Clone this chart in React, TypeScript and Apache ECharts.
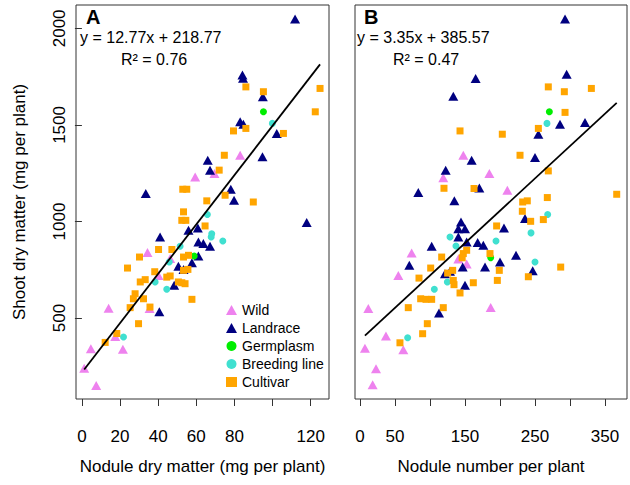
import React, { useEffect, useRef } from 'react';
import * as echarts from 'echarts';

// ---------- data (x, y) ----------
// Panel A: nodule dry matter (mg per plant) vs shoot dry matter
const wildA = [[1.2,240],[7.5,151],[4.7,341],[21.5,338],[17.5,405],[14,551],[35.5,549],[40.2,721],[46.3,808],[34.4,839],[59.4,1231],[69.5,1249],[83,1343]];
const landraceA = [[111.8,2048],[84.2,1758],[84.5,1742],[94.9,1646],[83,1516],[84.7,1504],[102.2,1456],[94.7,1335],[66,1317],[67.2,1266],[33.5,1145],[78.1,1167],[79.8,1110],[117.9,995],[55.9,955],[60.8,967],[41,920],[61.1,894],[63.7,886],[67.2,872],[61.1,821],[57.7,787],[50.6,768],[53.3,752],[48.4,670],[40.6,533]];
const germplasmA = [[95.2,1568],[58.9,821]];
const breedingA = [[99.9,1508],[65.8,1036],[68.1,937],[67.8,920],[73.9,899],[51.5,872],[45.8,790],[38.4,687],[44.5,649],[21.8,402]];
const cultivarA = [[86,1697],[95.2,1672],[124.9,1689],[122.4,1568],[105.7,1456],[79.5,1469],[86,1482],[74.7,1343],[72,1266],[52.9,1167],[55,1167],[75.1,1136],[65.5,1107],[89.9,1101],[53.3,1050],[52.4,1006],[54.5,1006],[64.6,977],[40.2,855],[47.2,855],[30.2,816],[53.3,816],[55.9,825],[23.9,759],[53.3,747],[55.6,752],[38.2,740],[33.2,699],[30.6,687],[44.5,712],[46.3,718],[50.6,687],[52.4,683],[54.1,678],[27.9,626],[32.3,600],[27,600],[57.7,597],[25.3,554],[35.7,557],[29.7,471],[18.3,420],[12.2,374]];

// Panel B: nodule number per plant vs shoot dry matter
const wildB = [[18.1,155],[22.9,238],[7.1,344],[61.9,336],[37.1,407],[11.9,549],[186.7,555],[54.8,721],[152.4,780],[140.5,806],[73.8,837],[210.5,1162],[119,1226],[184.8,1249],[147.6,1343]];
const landraceB = [[292.9,2048],[295.2,1763],[165.2,1741],[133.3,1649],[285.7,1503],[321.4,1513],[254.8,1452],[250,1331],[159.5,1317],[122.4,1266],[170.5,1174],[83.3,1150],[134.8,1107],[235.7,1015],[144.3,998],[150,963],[140.5,963],[205.7,967],[140.5,920],[152.4,894],[168.1,891],[176.2,877],[102.4,872],[222.9,825],[200,790],[70.5,773],[146.7,764],[178.6,764],[246.7,745],[121.4,730],[128.6,742],[150,670],[112.9,526]];
const germplasmB = [[270.5,1568],[186.7,813]];
const breedingB = [[267.1,1508],[268.1,1036],[244.3,941],[128.6,920],[194.3,899],[137.1,873],[250,790],[124.8,687],[106.2,649],[68.1,398]];
const cultivarB = [[269,1697],[291.9,1672],[330.5,1689],[292.9,1565],[254.8,1482],[142.9,1469],[203.3,1452],[228.6,1343],[269,1262],[120,1172],[162.9,1171],[366.7,1141],[232.4,1101],[239,1107],[267.6,1124],[231.9,1053],[243.8,1001],[261.9,1010],[195.2,977],[152.4,851],[147.6,834],[116.7,816],[185.7,834],[146,812],[101,759],[286.7,764],[199,747],[125.2,733],[132.4,747],[84.3,707],[240.5,714],[196.2,695],[161.9,683],[133.3,695],[134.3,673],[142.9,630],[86.7,600],[94.3,597],[102.4,597],[69,554],[119,554],[96.2,471],[89.5,419],[57.1,372]];

// regression fits (from the chart's equations) and the x-span of the fitted lines
const fitA = { slope: 12.77, intercept: 218.77, r2: 0.76 };
const fitB = { slope: 3.35, intercept: 385.57, r2: 0.47 };
const fitXRangeA = [1.2, 124.9];
const fitXRangeB = [7.1, 366.7];

// axes ticks
const ticksXA = [0, 20, 40, 60, 80, 100, 120];
const labelsXA = [0, 20, 40, 60, 80, 120];
const ticksXB = [0, 50, 100, 150, 200, 250, 300, 350];
const labelsXB = [0, 50, 150, 250, 350];
const ticksY = [500, 1000, 1500, 2000];

const groups = ['Wild', 'Landrace', 'Germplasm', 'Breeding line', 'Cultivar'];
const colors = ['#EE82EE', '#000080', '#00EE00', '#40E0D0', '#FFA500'];
const symbols = ['triangle', 'triangle', 'circle', 'circle', 'rect'];
const sizes: any[] = [[10, 9], [10, 9], 7, 7, 7];

const FONT = "'Liberation Sans', Arial, sans-serif";

export default function App() {
  const ref = useRef<HTMLDivElement>(null);
  useEffect(() => {
    if (!ref.current) return;
    const chart = echarts.init(ref.current, null, { renderer: 'svg' });
    const dataA = [wildA, landraceA, germplasmA, breedingA, cultivarA];
    const dataB = [wildB, landraceB, germplasmB, breedingB, cultivarB];
    const series: any[] = [];
    [dataA, dataB].forEach((set, gi) => {
      set.forEach((d, i) => {
        series.push({
          type: 'scatter', name: groups[i], xAxisIndex: gi, yAxisIndex: gi,
          data: d, symbol: symbols[i], symbolSize: sizes[i],
          itemStyle: { color: colors[i], opacity: 1 },
          emphasis: { disabled: true },
        });
      });
    });
    const fits = [fitA, fitB];
    const ranges = [fitXRangeA, fitXRangeB];
    fits.forEach((f, gi) => {
      series.push({
        type: 'line', xAxisIndex: gi, yAxisIndex: gi, symbol: 'none',
        data: ranges[gi].map((x) => [x, f.slope * x + f.intercept]),
        lineStyle: { color: '#000', width: 1.8 }, silent: true, z: 5,
      });
    });
    const xAxisBase = (min: number, max: number, gi: number, ticks: number[], labels: number[], name: string) => ({
      type: 'value', gridIndex: gi, min, max,
      axisLine: { show: false },
      splitLine: { show: false },
      axisTick: { show: true, length: 7, customValues: ticks, lineStyle: { color: '#333' } },
      axisLabel: { customValues: labels, margin: 29, fontSize: 17, color: '#000', fontFamily: FONT },
      name, nameLocation: 'middle', nameGap: 59,
      nameTextStyle: { fontSize: 17, color: '#000', fontFamily: FONT },
    });
    const option: any = {
      animation: false,
      grid: [
        { left: 76, top: 5, width: 253, height: 394, show: true, borderColor: '#333', borderWidth: 1, backgroundColor: '#fff' },
        { left: 355, top: 5, width: 272, height: 394, show: true, borderColor: '#333', borderWidth: 1, backgroundColor: '#fff' },
      ],
      xAxis: [
        xAxisBase(-3.1, 129.6, 0, ticksXA, labelsXA, 'Nodule dry matter (mg per plant)'),
        xAxisBase(-7.1, 381.4, 1, ticksXB, labelsXB, 'Nodule number per plant'),
      ],
      yAxis: [
        {
          type: 'value', gridIndex: 0, min: 81, max: 2121,
          axisLine: { show: false }, splitLine: { show: false },
          axisTick: { show: true, length: 7, customValues: ticksY, lineStyle: { color: '#333' } },
          axisLabel: { customValues: ticksY, formatter: (v: number) => String(v), rotate: 90, margin: 8, fontSize: 17, color: '#000', fontFamily: FONT },
          name: 'Shoot dry matter (mg per plant)', nameLocation: 'middle', nameGap: 48,
          nameTextStyle: { fontSize: 17, color: '#000', fontFamily: FONT },
        },
        {
          type: 'value', gridIndex: 1, min: 81, max: 2121,
          axisLine: { show: false }, splitLine: { show: false },
          axisTick: { show: false }, axisLabel: { show: false },
        },
      ],
      legend: {
        orient: 'vertical', left: 221, top: 298,
        itemWidth: 11, itemHeight: 10, itemGap: 4,
        data: groups.map((g, i) => ({ name: g, icon: symbols[i] })),
        textStyle: { fontSize: 14, color: '#000', fontFamily: FONT },
        selectedMode: false,
      },
      graphic: [
        { type: 'text', left: 86, top: 7, style: { text: 'A', font: `bold 20px ${FONT}`, fill: '#000' } },
        { type: 'text', left: 80, top: 29, style: { text: `y = ${fitA.slope}x + ${fitA.intercept}`, font: `16px ${FONT}`, fill: '#000' } },
        { type: 'text', left: 121, top: 51, style: { text: `R² = ${fitA.r2}`, font: `16px ${FONT}`, fill: '#000' } },
        { type: 'text', left: 364, top: 7, style: { text: 'B', font: `bold 20px ${FONT}`, fill: '#000' } },
        { type: 'text', left: 357, top: 29, style: { text: `y = ${fitB.slope}x + ${fitB.intercept}`, font: `16px ${FONT}`, fill: '#000' } },
        { type: 'text', left: 393, top: 51, style: { text: `R² = ${fitB.r2}`, font: `16px ${FONT}`, fill: '#000' } },
      ],
      series,
    };
    chart.setOption(option);
    return () => chart.dispose();
  }, []);
  return <div ref={ref} style={{ position: 'fixed', left: 0, top: 0, width: 630, height: 485, background: '#fff' }} />;
}
